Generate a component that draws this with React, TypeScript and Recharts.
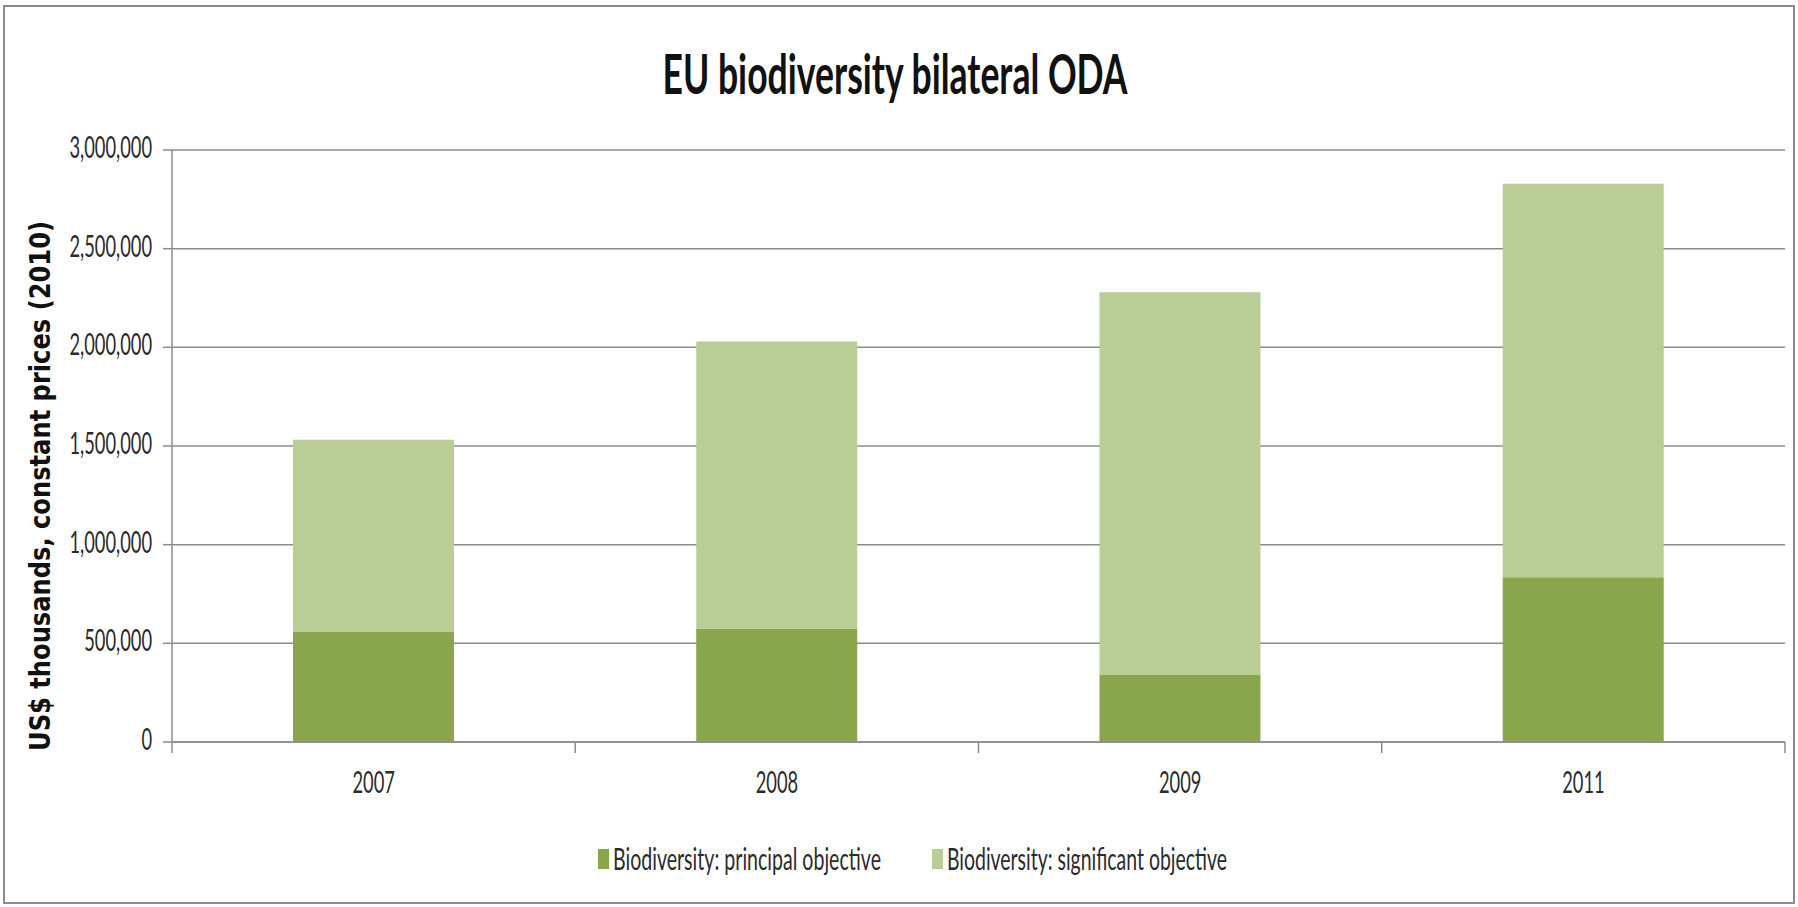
import React from 'react';
import { BarChart, Bar, XAxis, YAxis, CartesianGrid, Legend } from 'recharts';

const years = ['2007', '2008', '2009', '2011'];
const principal = [560000, 575000, 340000, 835000];
const significant = [972000, 1454000, 1939000, 1994000];
const yTicks = [0, 500000, 1000000, 1500000, 2000000, 2500000, 3000000];
const seriesNames = ['Biodiversity: principal objective', 'Biodiversity: significant objective'];
const seriesColors = ['#8AA64D', '#B9CE96'];
const title = 'EU biodiversity bilateral ODA';
const yLabel = 'US$ thousands, constant prices (2010)';

const data = years.map((y, i) => ({ year: y, principal: principal[i], significant: significant[i] }));

const FONT = 'Lato, "Open Sans", sans-serif';
const GRID = '#8c8c8c';
const TEXT = '#2b2b2b';
const SX = 0.61;
const LSX = 0.65;

const fmt = (v: number) => v.toLocaleString('en-US');

const YTick = (props: any) => {
  const { x, y, payload } = props;
  return (
    <text
      transform={`translate(${x},${y + 8}) scale(${SX},1)`}
      textAnchor="end"
      fontFamily={FONT}
      fontSize={30}
      fill={TEXT}
    >
      {fmt(payload.value)}
    </text>
  );
};

const XTick = (props: any) => {
  const { x, y, payload, index } = props;
  const off = (payload && payload.offset) || 0;
  return (
    <g>
      <line x1={x - off} x2={x - off} y1={y} y2={y + 11} stroke={GRID} strokeWidth={1.5} />
      {index === years.length - 1 && (
        <line x1={x + off} x2={x + off} y1={y} y2={y + 11} stroke={GRID} strokeWidth={1.5} />
      )}
      <text
        transform={`translate(${x},${y + 51}) scale(${SX},1)`}
        textAnchor="middle"
        fontFamily={FONT}
        fontSize={30}
        fill={TEXT}
      >
        {payload.value}
      </text>
    </g>
  );
};

const legendTextLen = [268, 280];

const LegendContent = (props: any) => {
  const { payload } = props;
  let cx = 598;
  return (
    <svg width={1785} height={40} style={{ display: 'block' }}>
      {(payload || []).map((p: any, i: number) => {
        const x0 = cx;
        cx += 14 + legendTextLen[i] + 52;
        return (
          <g key={i}>
            <rect x={x0} y={11} width={11} height={20} fill={p.color} />
            <text
              transform={`translate(${x0 + 15},32) scale(${LSX},1)`}
              textLength={legendTextLen[i] / LSX}
              lengthAdjust="spacingAndGlyphs"
              fontFamily={FONT}
              fontSize={31}
              fill={TEXT}
            >
              {p.value}
            </text>
          </g>
        );
      })}
    </svg>
  );
};

export default function App() {
  return (
    <div style={{ position: 'absolute', left: 0, top: 0, width: 1798, height: 907, background: '#fff' }}>
      <BarChart
        width={1798}
        height={907}
        data={data}
        margin={{ top: 150, right: 13, bottom: 29, left: 0 }}
        barCategoryGap="30%"
      >
        <CartesianGrid vertical={false} stroke={GRID} strokeWidth={1.5} />
        <XAxis
          dataKey="year"
          height={96}
          tickSize={0}
          tickMargin={0}
          tickLine={false}
          axisLine={{ stroke: GRID, strokeWidth: 1.5 }}
          tick={<XTick />}
          interval={0}
        />
        <YAxis
          width={172}
          domain={[0, 3000000]}
          ticks={yTicks}
          interval={0}
          tickSize={9}
          tickMargin={11}
          axisLine={{ stroke: GRID, strokeWidth: 1.5 }}
          tickLine={{ stroke: GRID, strokeWidth: 1.5 }}
          tick={<YTick />}
        />
        <Legend verticalAlign="bottom" height={40} content={<LegendContent />} wrapperStyle={{ left: 0 }} />
        <Bar dataKey="principal" name={seriesNames[0]} stackId="a" fill={seriesColors[0]} isAnimationActive={false} />
        <Bar dataKey="significant" name={seriesNames[1]} stackId="a" fill={seriesColors[1]} isAnimationActive={false} />
      </BarChart>
      <svg
        width={1798}
        height={907}
        style={{ position: 'absolute', left: 0, top: 0, pointerEvents: 'none' }}
      >
        <rect x={4} y={6} width={1790} height={897} fill="none" stroke={GRID} strokeWidth={2} />
        <text
          x={895}
          y={94}
          textAnchor="middle"
          textLength={465}
          lengthAdjust="spacingAndGlyphs"
          fontFamily={FONT}
          fontWeight={700}
          fontSize={56}
          fill="#111"
        >
          {title}
        </text>
        <text
          transform="translate(50,486) rotate(-90)"
          textAnchor="middle"
          textLength={530}
          lengthAdjust="spacingAndGlyphs"
          fontFamily='"DejaVu Sans", sans-serif'
          fontWeight={700}
          fontSize={29}
          fill="#111"
        >
          {yLabel}
        </text>
      </svg>
    </div>
  );
}
